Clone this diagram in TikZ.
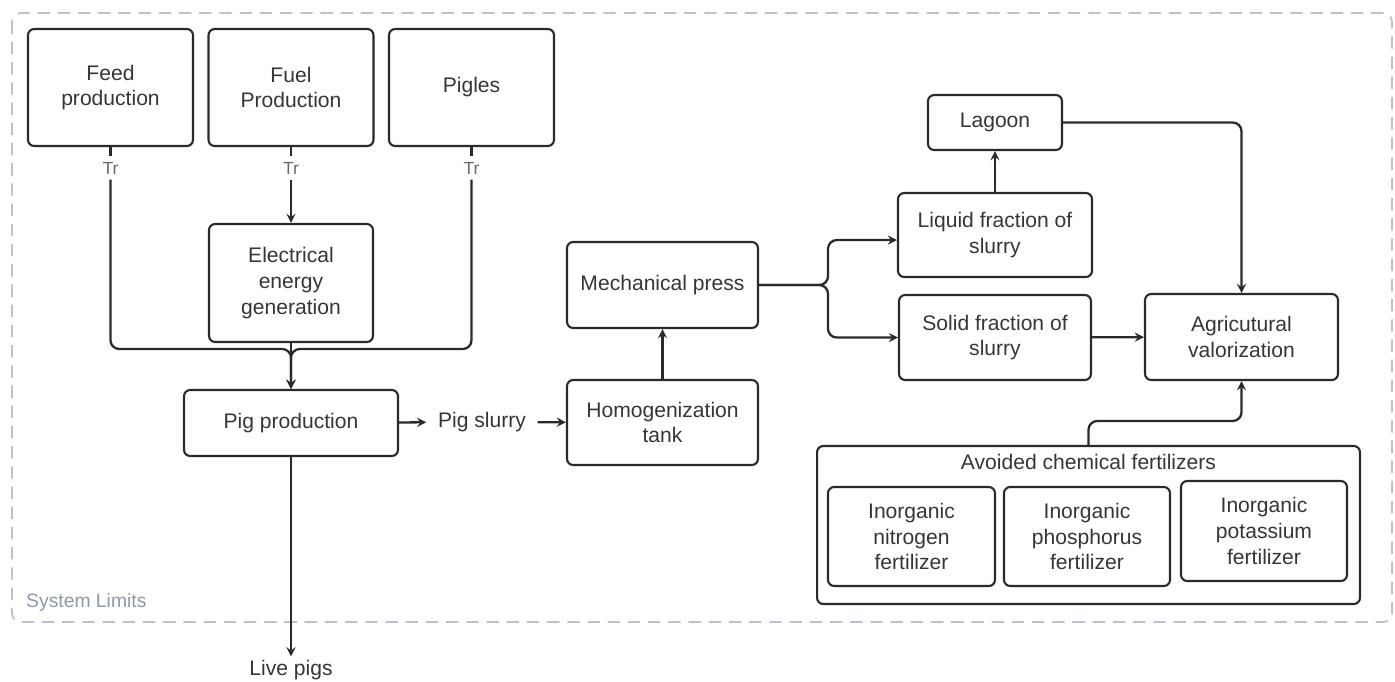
\documentclass[tikz,border=0pt]{standalone}
\usepackage{fontspec}
\setmainfont{Liberation Sans}
\usepgflibrary{arrows}
\usetikzlibrary{calc}
\definecolor{linegray}{HTML}{2A2A2A}
\definecolor{txtgray}{HTML}{363636}
\definecolor{trgray}{HTML}{6A6A6A}
\definecolor{limitgray}{HTML}{BCC2CB}
\definecolor{limittxt}{HTML}{8E98A8}

\begin{document}
\begin{tikzpicture}[x=0.02cm, y=-0.02cm, >=stealth,
  stage/.style={draw=linegray, line width=1.2pt, rounded corners=3.5pt, align=center, text=txtgray, inner sep=2pt, font=\fontsize{12}{14.7}\selectfont},
  plain/.style={text=txtgray, align=center, font=\fontsize{12}{14.7}\selectfont},
  tr/.style={text=trgray, inner sep=3pt, font=\fontsize{10}{11}\selectfont},
  flow/.style={draw=linegray, line width=1.3pt, rounded corners=5pt}]
\useasboundingbox (0,0) rectangle (1395,681);
\draw[limitgray, line width=1pt, dash pattern=on 7pt off 4.5pt, rounded corners=5pt] (12,13) rectangle (1392,622);
\node[anchor=west, text=limittxt, font=\fontsize{11}{13}\selectfont] (limits) at (20,602) {System Limits};

\node[stage, minimum width=3.3cm, minimum height=2.34cm] (feed) at (110.5,87.5) {Feed\\production};
\node[stage, minimum width=3.3cm, minimum height=2.34cm] (fuel) at (291,87.5) {Fuel\\Production};
\node[stage, minimum width=3.3cm, minimum height=2.34cm] (pigles) at (471.5,87.5) {Pigles};
\node[tr] (tr1) at (110.5,168) {Tr};
\node[tr] (tr2) at (291,168) {Tr};
\node[tr] (tr3) at (471.5,168) {Tr};
\node[stage, minimum width=3.28cm, minimum height=2.36cm] (elec) at (291,283) {Electrical\\energy\\generation};
\coordinate (join) at (291,349);
\node[stage, minimum width=4.28cm, minimum height=1.32cm] (pigprod) at (291,423) {Pig production};
\node[plain, inner sep=6.5pt] (slurry) at (482,422) {Pig slurry};
\node[plain, inner sep=2pt] (live) at (291,670) {Live pigs};

\node[stage, minimum width=3.82cm, minimum height=1.7cm] (homog) at (662.5,422.5) {Homogenization\\tank};
\node[stage, minimum width=3.82cm, minimum height=1.72cm] (press) at (662.5,285) {Mechanical press};
\coordinate (fork) at (828,285);
\node[stage, minimum width=3.88cm, minimum height=1.68cm] (liquid) at (995,235) {Liquid fraction of\\slurry};
\node[stage, minimum width=3.84cm, minimum height=1.7cm] (solid) at (995,337.5) {Solid fraction of\\slurry};
\node[stage, minimum width=2.68cm, minimum height=1.1cm] (lagoon) at (995,122.5) {Lagoon};
\node[stage, minimum width=3.86cm, minimum height=1.72cm] (agric) at (1241.5,337) {Agricutural\\valorization};

\node[stage, minimum width=10.86cm, minimum height=3.16cm] (avoided) at (1088.5,525) {};
\node[plain] (avtitle) at (1088.5,462) {Avoided chemical fertilizers};
\node[stage, minimum width=3.34cm, minimum height=1.98cm] (nitro) at (911.5,536.5) {Inorganic\\nitrogen\\fertilizer};
\node[stage, minimum width=3.32cm, minimum height=1.98cm] (phos) at (1087,536.5) {Inorganic\\phosphorus\\fertilizer};
\node[stage, minimum width=3.32cm, minimum height=2cm] (potas) at (1264,531) {Inorganic\\potassium\\fertilizer};

\draw[flow] (feed) -- (tr1);
\draw[flow] (fuel) -- (tr2);
\draw[flow] (pigles) -- (tr3);
\draw[flow,->] (tr2) -- (elec);
\draw[flow,->] (tr1) |- (join) -- (pigprod);
\draw[flow,->] (tr3) |- (join) -- (pigprod);
\draw[flow,->] (elec) -- (pigprod);
\draw[flow,->] (pigprod) -- (slurry);
\draw[flow,->] (slurry) -- (homog);
\draw[flow,->] (pigprod) -- (live);
\draw[flow,->] (homog) -- (press);
\draw[flow,->] (press) -- (fork) |- ([yshift=-0.1cm]liquid.west);
\draw[flow,->] (press) -- (fork) |- (solid);
\draw[flow,->] (liquid) -- (lagoon);
\draw[flow,->] (lagoon) -| (agric);
\draw[flow,->] (solid) -- (agric);
\draw[flow,->] (avoided.north) -- ++(0,-24) -| (agric);
\end{tikzpicture}
\end{document}
